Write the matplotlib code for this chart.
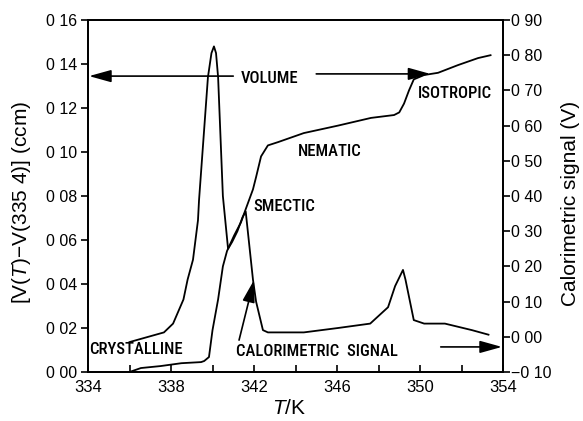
import matplotlib
matplotlib.use("Agg")
import matplotlib.pyplot as plt

plt.rcParams['font.family'] = ['Liberation Sans', 'DejaVu Sans']
plt.rcParams['mathtext.fontset'] = 'custom'
plt.rcParams['mathtext.rm'] = 'Liberation Sans'
plt.rcParams['mathtext.it'] = 'Liberation Sans:italic'

# volume curve, left axis (ccm)
vol_T = [336.0, 336.55, 337.5, 338.5, 339.45, 339.6, 339.83, 340.0, 340.27, 340.5,
         340.7, 341.04, 341.37, 341.6, 341.95, 342.1, 342.34, 342.67, 343.16, 344.4,
         346.05, 347.64, 348.75, 349.0, 349.23, 349.47, 349.7, 350.2, 350.87, 351.83,
         352.8, 353.4]
vol_V = [0.0, 0.0018, 0.0027, 0.004, 0.0045, 0.005, 0.0068, 0.019, 0.033, 0.048,
         0.055, 0.062, 0.068, 0.074, 0.083, 0.0886, 0.098, 0.103, 0.1045, 0.1086,
         0.112, 0.1155, 0.1168, 0.118, 0.122, 0.128, 0.133, 0.135, 0.136, 0.1395,
         0.1427, 0.144]

# calorimetric signal, right axis (V)
cal_T = [336.0, 337.66, 338.1, 338.6, 338.8, 339.06, 339.3, 339.35, 339.78, 339.95,
         340.07, 340.17, 340.27, 340.5, 340.75, 340.95, 341.2, 341.45, 341.6, 341.95,
         342.1, 342.43, 342.67, 343.3, 344.4, 346.05, 347.6, 348.46, 348.8, 349.18,
         349.3, 349.7, 350.2, 351.2, 352.5, 353.3]
cal_S = [-0.015, 0.0125, 0.0375, 0.106, 0.1625, 0.219, 0.331, 0.3875, 0.7375, 0.806,
         0.825, 0.806, 0.7375, 0.40, 0.25, 0.27, 0.30, 0.34, 0.356, 0.1625,
         0.10, 0.019, 0.0125, 0.0125, 0.0125, 0.025, 0.0375, 0.084, 0.144, 0.19,
         0.1625, 0.0475, 0.0375, 0.0375, 0.019, 0.006]

left_ticks = [0.0, 0.02, 0.04, 0.06, 0.08, 0.10, 0.12, 0.14, 0.16]
left_labels = ['0 00', '0 02', '0 04', '0 06', '0 08', '0 10', '0 12', '0 14', '0 16']
right_ticks = [-0.1, 0.0, 0.1, 0.2, 0.3, 0.4, 0.5, 0.6, 0.7, 0.8, 0.9]
right_labels = ['\u22120 10', '0 00', '0 10', '0 20', '0 30', '0 40', '0 50',
                '0 60', '0 70', '0 80', '0 90']
x_ticks = [334, 338, 342, 346, 350, 354]

W, H = 583, 421
fig = plt.figure(figsize=(W / 100, H / 100), dpi=100)
ax = fig.add_axes([88 / W, 1 - 372 / H, 415 / W, 352 / H])
ax2 = ax.twinx()

ax.plot(vol_T, vol_V, color='black', lw=1.3)
ax2.plot(cal_T, cal_S, color='black', lw=1.3)

ax.set_xlim(334, 354)
ax.set_ylim(0, 0.16)
ax2.set_ylim(-0.1, 0.9)

ax.set_xticks(x_ticks)
ax.set_xticks(range(334, 355, 2), minor=True)
ax.set_yticks(left_ticks)
ax.set_yticklabels(left_labels)
ax2.set_yticks(right_ticks)
ax2.set_yticklabels(right_labels)

ax.tick_params(axis='x', which='both', direction='in', length=5, width=1.2,
               labelsize=12, pad=6)
ax.tick_params(axis='y', direction='out', length=5, width=1.2, labelsize=11.5, pad=3)
ax2.tick_params(axis='y', direction='out', length=5, width=1.2, labelsize=11.5, pad=1)
for a in (ax, ax2):
    for s in a.spines.values():
        s.set_linewidth(1.3)

fig.text(22 / W, 1 - 202 / H, '[V($T$)\u2212V(335 4)] (ccm)', rotation=90,
         ha='center', va='center', fontsize=15)
fig.text(570 / W, 1 - 203 / H, 'Calorimetric signal (V)', rotation=90,
         ha='center', va='center', fontsize=15)
fig.text(289 / W, 1 - 409 / H, '$T$/K', ha='center', va='center', fontsize=15)

lab = dict(family=['Roboto Condensed', 'Liberation Sans'], fontsize=12,
           fontweight='medium', color='black')
arr = dict(arrowstyle='-|>,head_length=0.9,head_width=0.25', color='black',
           lw=1.2, shrinkA=0, shrinkB=0, mutation_scale=15)

ax.text(342.75, 0.1332, 'VOLUME', ha='center', va='center', **lab)
ax.annotate('', xy=(334.05, 0.1345), xytext=(341.0, 0.1345), arrowprops=arr)
ax.annotate('', xy=(350.5, 0.1355), xytext=(345.0, 0.1355), arrowprops=arr)
ax.text(349.9, 0.1268, 'ISOTROPIC', ha='left', va='center', **lab)
ax.text(344.1, 0.100, 'NEMATIC', ha='left', va='center', **lab)
ax.text(341.95, 0.075, 'SMECTIC', ha='left', va='center', **lab)
ax.text(334.05, 0.010, 'CRYSTALLINE', ha='left', va='center', **lab)
ax.text(341.13, 0.0091, 'CALORIMETRIC  SIGNAL', ha='left', va='center', **lab)
ax.annotate('', xy=(342.0, 0.0418), xytext=(341.28, 0.0145), arrowprops=arr)
ax.annotate('', xy=(353.95, 0.0114), xytext=(351.0, 0.0114), arrowprops=arr)

fig.savefig('out.png', dpi=100)
